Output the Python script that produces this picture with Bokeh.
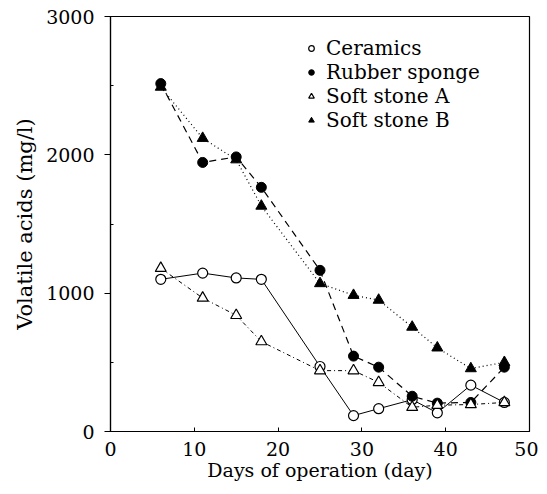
from bokeh.plotting import figure
from bokeh.models import Range1d, Legend, LegendItem, FixedTicker
from bokeh.embed import file_html
from bokeh.resources import INLINE

days = [6, 11, 15, 18, 25, 29, 32, 36, 39, 43, 47]
ceramics = [1100, 1145, 1110, 1100, 470, 115, 165, 230, 135, 335, 210]
rubber_sponge = [2515, 1945, 1985, 1765, 1165, 545, 465, 255, 205, 210, 465]
soft_stone_a = [1180, 965, 840, 650, 440, 440, 355, 175, 190, 195, 210]
soft_stone_b = [2490, 2120, 1965, 1630, 1070, 985, 950, 755, 605, 455, 500]

FONT = "DejaVu Serif"

p = figure(width=538, height=486, output_backend="svg", toolbar_location=None,
           x_range=Range1d(0, 50), y_range=Range1d(0, 3000),
           min_border_left=110, min_border_right=9, min_border_top=16, min_border_bottom=55)
p.grid.visible = False
p.outline_line_color = "black"
p.outline_line_width = 1.2
p.background_fill_color = "white"

p.xaxis.ticker = FixedTicker(ticks=[0, 10, 20, 30, 40, 50])
p.yaxis.ticker = FixedTicker(ticks=[0, 1000, 2000, 3000], minor_ticks=[500, 1500, 2500])
for ax in (p.xaxis, p.yaxis):
    ax.axis_line_color = "black"
    ax.axis_line_width = 1.2
    ax.major_label_text_font = FONT
    ax.major_label_text_font_size = "19px"
    ax.major_label_text_color = "black"
    ax.axis_label_text_font = FONT
    ax.axis_label_text_font_style = "normal"
    ax.axis_label_text_color = "black"
p.xaxis.axis_label_text_font_size = "19px"
p.yaxis.axis_label_text_font_size = "21px"
p.xaxis.major_tick_in = 4
p.xaxis.major_tick_out = 0
p.xaxis.minor_tick_line_color = None
p.yaxis.major_tick_in = 0
p.yaxis.major_tick_out = 6
p.yaxis.minor_tick_in = 3
p.yaxis.minor_tick_out = 0
p.xaxis.axis_label = "Days of operation (day)"
p.yaxis.axis_label = "Volatile acids (mg/l)"
p.xaxis.major_label_standoff = 10
p.yaxis.major_label_standoff = 10
p.xaxis.axis_label_standoff = 0
p.yaxis.axis_label_standoff = 6

p.line(days, ceramics, line_color="black", line_width=1)
p.line(days, rubber_sponge, line_color="black", line_width=1.2, line_dash="7 5")
p.line(days, soft_stone_a, line_color="black", line_width=1, line_dash="4 3 1 3")
p.line(days, soft_stone_b, line_color="black", line_width=1.2, line_dash="1 3")

r_c = p.scatter(days, ceramics, marker="circle", size=10, fill_color="white", line_color="black", line_width=1.2)
r_r = p.scatter(days, rubber_sponge, marker="circle", size=10, fill_color="black", line_color="black")
r_a = p.scatter(days, soft_stone_a, marker="triangle", size=11, fill_color="white", line_color="black", line_width=1.2)
r_b = p.scatter(days, soft_stone_b, marker="triangle", size=11, fill_color="black", line_color="black")

legend = Legend(items=[
    LegendItem(label="Ceramics", renderers=[r_c]),
    LegendItem(label="Rubber sponge", renderers=[r_r]),
    LegendItem(label="Soft stone A", renderers=[r_a]),
    LegendItem(label="Soft stone B", renderers=[r_b]),
], location=(194, 299))
legend.border_line_color = None
legend.background_fill_alpha = 0
legend.label_text_font = FONT
legend.label_text_font_size = "20px"
legend.label_text_color = "black"
legend.glyph_width = 14
legend.glyph_height = 20
legend.label_height = 20
legend.spacing = 0
legend.padding = 0
legend.margin = 0
legend.label_standoff = 8
p.add_layout(legend, "center")

open("out.html", "w").write(file_html(p, INLINE))
